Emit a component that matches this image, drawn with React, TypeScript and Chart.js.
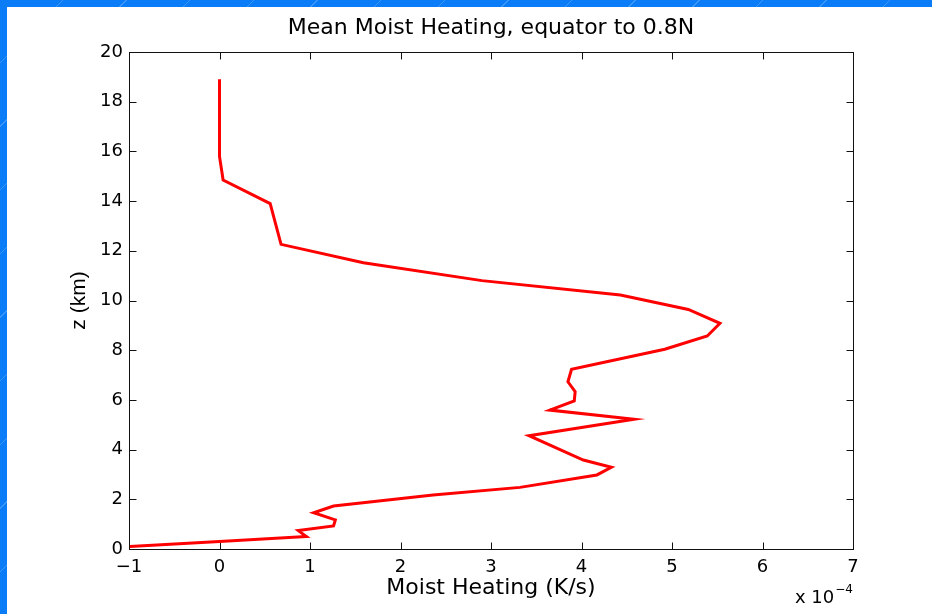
import React, { useEffect, useRef } from "react";
import { Chart, registerables } from "chart.js";

Chart.register(...registerables);

// Height levels (km), top to bottom, and mean moist heating (units of 1e-4 K/s)
const heightsKm = [
  18.9, 15.8, 14.85, 13.9, 12.26, 11.52, 10.8, 10.22, 9.64, 9.08, 8.57, 8.04,
  7.23, 6.73, 6.33, 5.96, 5.59, 5.22, 4.56, 3.58, 3.29, 2.98, 2.48, 2.17,
  1.73, 1.46, 1.17, 0.93, 0.74, 0.5, 0.3, 0.1,
];
const heating = [
  0.0, 0.0, 0.04, 0.56, 0.68, 1.59, 2.9, 4.43, 5.18, 5.53, 5.39, 4.92,
  3.89, 3.85, 3.93, 3.92, 3.65, 4.58, 3.42, 4.02, 4.33, 4.17, 3.32, 2.36,
  1.26, 1.04, 1.28, 1.26, 0.87, 0.96, 0.0, -0.99,
];

const xTicks = [-1, 0, 1, 2, 3, 4, 5, 6, 7];
const yTicks = [0, 2, 4, 6, 8, 10, 12, 14, 16, 18, 20];

const chartTitle = "Mean Moist Heating, equator to 0.8N";
const xLabel = "Moist Heating (K/s)";
const yLabel = "z (km)";
const expBase = "x 10";
const expPower = "\u22124";

const fmt = (v: number) => (v < 0 ? "\u2212" + Math.abs(v) : String(v));

export default function App() {
  const ref = useRef<HTMLCanvasElement>(null);

  useEffect(() => {
    if (!ref.current) return;
    const TICK = 7;

    const boxPlugin = {
      id: "matlabBox",
      beforeDatasetsDraw(chart: any) {
        const { ctx, chartArea: a, scales } = chart;
        const L = Math.round(a.left) + 0.5;
        const R = Math.round(a.right) + 0.5;
        const T = Math.round(a.top) + 0.5;
        const B = Math.round(a.bottom) + 0.5;
        ctx.save();
        ctx.strokeStyle = "#111";
        ctx.lineWidth = 1;
        ctx.strokeRect(L, T, R - L, B - T);
        ctx.beginPath();
        xTicks.forEach((v) => {
          const px = Math.round(scales.x.getPixelForValue(v)) + 0.5;
          ctx.moveTo(px, B);
          ctx.lineTo(px, B - TICK);
          ctx.moveTo(px, T);
          ctx.lineTo(px, T + TICK);
        });
        yTicks.forEach((v) => {
          const py = Math.round(scales.y.getPixelForValue(v)) + 0.5;
          ctx.moveTo(L, py);
          ctx.lineTo(L + TICK, py);
          ctx.moveTo(R, py);
          ctx.lineTo(R - TICK, py);
        });
        ctx.stroke();
        ctx.restore();
      },
      afterDraw(chart: any) {
        const { ctx, chartArea: a } = chart;
        ctx.save();
        ctx.fillStyle = "#000";
        ctx.textBaseline = "alphabetic";
        ctx.textAlign = "left";
        ctx.font = "18px 'DejaVu Sans'";
        const x0 = a.right - 58;
        ctx.fillText(expBase, x0, 596);
        const w = ctx.measureText(expBase).width;
        ctx.font = "12px 'DejaVu Sans'";
        ctx.fillText(expPower, x0 + w + 1, 586);
        ctx.restore();
      },
    };

    const chart = new Chart(ref.current, {
      type: "scatter",
      data: {
        datasets: [
          {
            data: heightsKm.map((z, i) => ({ x: heating[i], y: z })),
            showLine: true,
            borderColor: "#ff0000",
            backgroundColor: "#ff0000",
            borderWidth: 3,
            pointRadius: 0,
            tension: 0,
            clip: 6,
          } as any,
        ],
      },
      options: {
        responsive: false,
        animation: false,
        layout: { padding: { left: 0, right: 79, top: 0, bottom: 0 } },
        plugins: {
          legend: { display: false },
          tooltip: { enabled: false },
          title: {
            display: true,
            text: chartTitle,
            color: "#000",
            fullSize: false,
            font: { family: "'DejaVu Sans'", size: 22, weight: "normal" },
            padding: { top: 8, bottom: 10.6 },
          },
        },
        scales: {
          x: {
            type: "linear",
            min: -1,
            max: 7,
            afterFit: (s: any) => {
              s.height = 65;
            },
            afterBuildTicks: (s: any) => {
              s.ticks = xTicks.map((v) => ({ value: v }));
            },
            border: { display: false },
            grid: { display: false, drawTicks: false },
            ticks: {
              color: "#000",
              padding: 8,
              font: { family: "'DejaVu Sans'", size: 18 },
              callback: (v: any) => fmt(Number(v)),
            },
            title: {
              display: true,
              text: xLabel,
              color: "#000",
              font: { family: "'DejaVu Sans'", size: 22 },
              padding: { top: 0, bottom: 13 },
            },
          },
          y: {
            type: "linear",
            min: 0,
            max: 20,
            afterFit: (s: any) => {
              s.width = 122;
            },
            afterBuildTicks: (s: any) => {
              s.ticks = yTicks.map((v) => ({ value: v }));
            },
            border: { display: false },
            grid: { display: false, drawTicks: false },
            ticks: {
              color: "#000",
              padding: 6,
              font: { family: "'DejaVu Sans'", size: 18 },
              callback: (v: any) => fmt(Number(v)),
            },
            title: {
              display: true,
              text: yLabel,
              color: "#000",
              font: { family: "'Liberation Sans'", size: 21 },
              padding: { top: 60, bottom: 0 },
            },
          },
        },
      },
      plugins: [boxPlugin],
    });

    return () => chart.destroy();
  }, []);

  return (
    <div
      style={{
        position: "fixed",
        left: 0,
        top: 0,
        width: 932,
        height: 614,
        overflow: "hidden",
        background:
          "repeating-linear-gradient(135deg, #0a7cf8 0px, #0a7cf8 44px, #3b97fb 44px, #3b97fb 45px)",
      }}
    >
      <div
        style={{
          position: "absolute",
          left: 7,
          top: 7,
          width: 925,
          height: 607,
          background: "#ffffff",
        }}
      >
        <canvas ref={ref} width={925} height={607} style={{ display: "block" }} />
      </div>
    </div>
  );
}
